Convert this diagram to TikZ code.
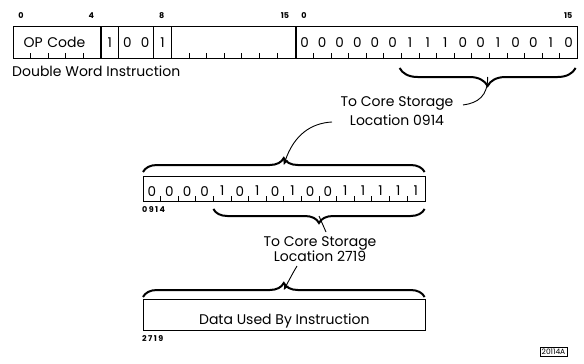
\documentclass[tikz,border=0pt]{standalone}
\usepackage{fontspec}
\setmainfont{Poppins}
\usetikzlibrary{arrows.meta,decorations.pathreplacing,calc}
\tikzset{
  >={Stealth[length=6pt,width=5pt]},
  wordbox/.style={draw,line width=1.1pt,minimum width=281.6pt,inner sep=0pt,anchor=north west},
  digit/.style={font=\fontsize{13.5}{14}\selectfont,inner sep=0pt},
  bitno/.style={font=\bfseries\fontsize{8}{9}\selectfont,inner sep=0pt},
  locno/.style={bitno,font=\bfseries\fontsize{8}{9}\selectfont\addfontfeatures{LetterSpace=18},anchor=west},
  lab/.style={font=\fontsize{14}{16}\selectfont,align=center,inner sep=0pt},
  brc/.style={decorate,decoration={brace,amplitude=#1},line width=2pt},
  bittick/.style={line width=0.7pt},
  lead/.style={line width=0.9pt},
}
\begin{document}
\begin{tikzpicture}[x=1pt,y=-1pt]
\useasboundingbox (0,0) rectangle (584,364);
% double word instruction
\node[wordbox,minimum height=32pt] (w1) at (13,26) {};
\node[wordbox,minimum height=32pt] (w2) at (w1.north east) {};
\foreach \k in {5,6,8,9}
  \draw[lead,line width=1.1pt] ($(w1.north west)+(\k*17.6,0)$) -- ($(w1.south west)+(\k*17.6,0)$);
\foreach \k in {1,2,3,4,10,11,12,13,14,15}
  \draw[bittick] ($(w1.south west)+(\k*17.6,0)$) -- ++(0,-6);
\foreach \k in {1,...,15}
  \draw[bittick] ($(w2.south west)+(\k*17.6,0)$) -- ++(0,-6);
\node[digit,font=\fontsize{14}{15}\selectfont] (op) at ($(w1.west)+(2.35*17.6,0)$) {OP\,\,Code};
\foreach \b/\k in {1/5,0/6,0/7,1/8}
  \node[digit] (f\k) at ($(w1.west)+(\k*17.6+8.8,0)$) {\b};
\foreach \b [count=\k from 0] in {0,0,0,0,0,0,1,1,1,0,0,1,0,0,1,0}
  \node[digit] (g\k) at ($(w2.west)+(\k*17.6+8.8,0)$) {\b};
\foreach \k in {0,4,8,15}
  \node[bitno] (n\k) at ($(w1.north west)+(\k*17.6+8,-10)$) {\k};
\foreach \k in {0,15}
  \node[bitno] (m\k) at ($(w2.north west)+(\k*17.6+8.4,-10)$) {\k};
\node[lab,anchor=west] (dw) at (12,71) {Double Word Instruction};
% address word at 0914
\node[wordbox,minimum height=25pt] (a) at (143,176) {};
\foreach \k in {1,...,15}
  \draw[bittick] ($(a.south west)+(\k*17.6,0)$) -- ++(0,-6);
\foreach \b [count=\k from 0] in {0,0,0,0,1,0,1,0,1,0,0,1,1,1,1,1}
  \node[digit] (h\k) at ($(a.west)+(\k*17.6+8.8,2)$) {\b};
\node[locno] (a914) at (142,210) {0914};
% data word at 2719
\node[wordbox,minimum height=31pt] (d) at (143,299) {};
\node[lab] (dt) at ($(d.center)+(0,6)$) {Data Used By Instruction};
\node[locno] (d2719) at (142,339) {2719};
% braces
\draw[brc=18pt] (575.6,68) -- coordinate[pos=0.5] (b1) (399.6,68);
\coordinate (t1) at ($(b1)+(0,9)$);
\draw[brc=14pt] (143,172) -- coordinate[pos=0.5] (b2) (424.6,172);
\coordinate (t2) at ($(b2)+(0,-7)$);
\draw[brc=14pt] (424.6,209) -- coordinate[pos=0.5] (b3) (213.4,209);
\coordinate (t3) at ($(b3)+(0,7)$);
\draw[brc=14pt] (143,297) -- coordinate[pos=0.5] (b4) (424.6,297);
\coordinate (t4) at ($(b4)+(0,-7)$);
% address labels
\node[lab] (l914) at (397,111) {To Core Storage\\[3pt]Location 0914};
\node[lab] (l2719) at (320,249) {To Core Storage\\[-1pt]Location 2719};
\coordinate (c1) at (463,105);
\coordinate (c2) at (332,122);
\coordinate (c3) at (326,232);
\coordinate (c4) at (297,266);
\draw[lead] (t1) .. controls (488,96) and (478,103) .. (c1);
\draw[lead,->] (c2) .. controls (312,123) and (294,134) .. (t2);
\draw[lead] (t3) -- (c3);
\draw[lead,->] (c4) .. controls (294,271) .. (t4);
% figure number
\node[draw,line width=0.6pt,font=\fontsize{7.5}{8}\selectfont,inner sep=1.5pt,minimum width=25pt] (fig) at (553.5,352) {20114A};
\end{tikzpicture}
\end{document}
